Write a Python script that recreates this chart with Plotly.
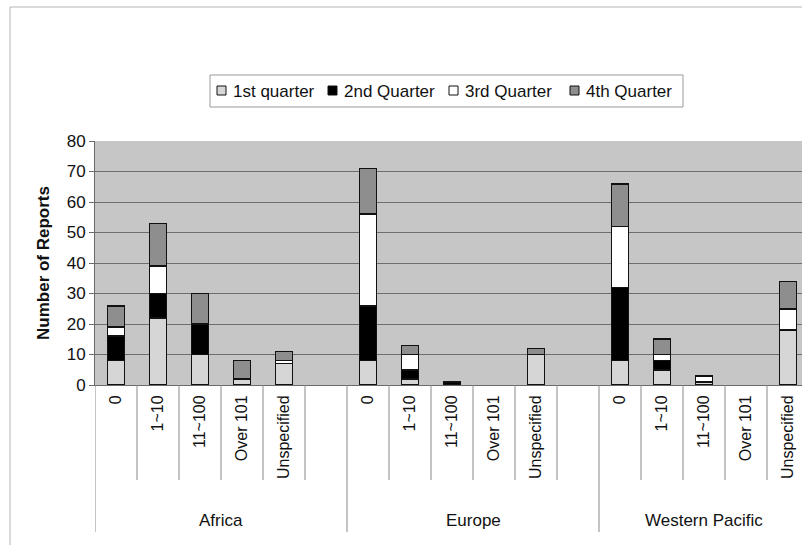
import plotly.graph_objects as go

# Reported outbreaks by number of cases, per WHO region and quarter
regions = ["Africa", "Europe", "Western Pacific"]
case_bands = ["0", "1~10", "11~100", "Over 101", "Unspecified"]
quarters = ["1st quarter", "2nd Quarter", "3rd Quarter", "4th Quarter"]

q1 = [8, 22, 10, 2, 7,   8, 2, 0, 0, 10,   8, 5, 1, 0, 18]
q2 = [8, 8, 10, 0, 0,    18, 3, 1, 0, 0,   24, 3, 0, 0, 0]
q3 = [3, 9, 0, 0, 1,     30, 5, 0, 0, 0,   20, 2, 2, 0, 7]
q4 = [7, 14, 10, 6, 3,   15, 3, 0, 0, 2,   14, 5, 0, 0, 9]

y_ticks = [0, 10, 20, 30, 40, 50, 60, 70, 80]

fills = ["#d6d6d6", "#000000", "#ffffff", "#8e8e8e"]
FONT = "Liberation Sans, Arial, sans-serif"
INK = "#111111"

# each region gets one slot per band plus an empty spacer slot
slots_per_group = len(case_bands) + 1
x_pos = [g * slots_per_group + k for g in range(len(regions)) for k in range(len(case_bands))]
tick_text = [c for _ in regions for c in case_bands]

fig = go.Figure()
for name, vals, col in zip(quarters, [q1, q2, q3, q4], fills):
    fig.add_trace(go.Bar(
        x=x_pos,
        y=[v if v else None for v in vals],
        name=name,
        width=0.4,
        showlegend=False,
        marker=dict(color=col, line=dict(color=INK, width=1.6)),
    ))

# plot area in pixels
W, H = 802, 545
L, R, T, B = 95, 0, 141, 160
PW, PH = W - L - R, H - T - B
slot_px = 42.0
x_lo = -0.5
x_hi = x_lo + PW / slot_px


def px_x(px):
    return (px - L) / PW


def px_y(py):
    return (H - B - py) / PH


shapes = []
annotations = []

# category and region separators below the axis
n_slots = slots_per_group * len(regions)
for b in range(n_slots + 1):
    xb = b - 0.5
    if xb > x_hi:
        break
    is_group = b % slots_per_group == 0
    shapes.append(dict(
        type="line", xref="x", yref="paper",
        x0=xb, x1=xb, y0=0, y1=px_y(532 if is_group else 480),
        line=dict(color="#8a8a8a", width=1),
    ))

# region names centred under their band slots
for g, reg in enumerate(regions):
    if g < len(regions) - 1:
        centre = g * slots_per_group + (slots_per_group - 1) / 2
    else:
        centre = g * slots_per_group + (len(case_bands) - 1) / 2
    annotations.append(dict(
        x=centre, y=px_y(520), xref="x", yref="paper",
        text=reg, showarrow=False, yanchor="middle",
        font=dict(family=FONT, size=17, color=INK),
    ))

# outer chart frame
shapes.append(dict(
    type="rect", xref="paper", yref="paper",
    x0=px_x(10), x1=px_x(830), y0=px_y(560), y1=px_y(7),
    line=dict(color="#b5b5b5", width=1), fillcolor="rgba(0,0,0,0)", layer="below",
))

# legend box with a swatch and label per quarter
shapes.append(dict(
    type="rect", xref="paper", yref="paper",
    x0=px_x(210), x1=px_x(683), y0=px_y(107), y1=px_y(75),
    line=dict(color="#9a9a9a", width=1), fillcolor="white",
))
swatch_left = [217, 328, 449, 570]
for name, col, sx in zip(quarters, fills, swatch_left):
    shapes.append(dict(
        type="rect", xref="paper", yref="paper",
        x0=px_x(sx), x1=px_x(sx + 9), y0=px_y(95), y1=px_y(86),
        line=dict(color=INK, width=1), fillcolor=col,
    ))
    annotations.append(dict(
        x=px_x(sx + 14), y=px_y(91), xref="paper", yref="paper",
        text=name, showarrow=False, xanchor="left", yanchor="middle",
        font=dict(family=FONT, size=17, color=INK),
    ))

fig.update_layout(
    width=W, height=H,
    margin=dict(l=L, r=R, t=T, b=B, pad=0),
    paper_bgcolor="white",
    plot_bgcolor="#c6c6c6",
    barmode="stack",
    font=dict(family=FONT, size=17, color=INK),
    showlegend=False,
    xaxis=dict(
        range=[x_lo, x_hi],
        tickmode="array", tickvals=x_pos, ticktext=tick_text,
        tickangle=-90, ticks="", ticklabelstandoff=3,
        showgrid=False, zeroline=False,
        showline=True, linecolor="#6a6a6a", linewidth=1,
        tickfont=dict(family=FONT, size=16, color=INK),
    ),
    yaxis=dict(
        range=[0, 80], tickmode="array", tickvals=y_ticks,
        ticks="outside", ticklen=5, tickcolor="#6a6a6a",
        showgrid=True, gridcolor="#6e6e6e", gridwidth=1,
        zeroline=False, showline=True, linecolor="#6a6a6a", linewidth=1,
        mirror=True,
        tickfont=dict(family=FONT, size=17, color=INK),
        title=dict(text="<b>Number of Reports</b>", standoff=12,
                   font=dict(family=FONT, size=17, color=INK)),
    ),
    shapes=shapes,
    annotations=annotations,
)

fig.write_html("out.html")
